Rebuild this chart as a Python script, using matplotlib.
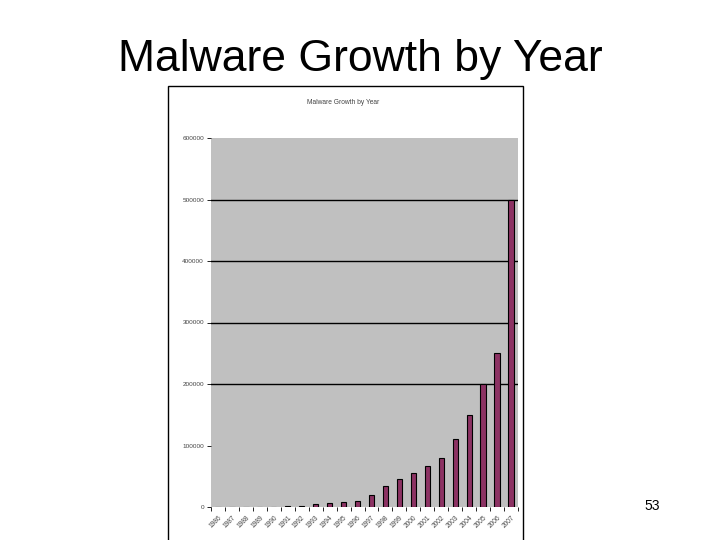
import numpy as np
import matplotlib
matplotlib.use('Agg')
import matplotlib.pyplot as plt
from matplotlib.patches import Rectangle

plt.rcParams['font.family'] = ['Liberation Sans', 'DejaVu Sans']

# datos
years = ['1986', '1987', '1988', '1989', '1990', '1991', '1992', '1993', '1994', '1995', '1996',
         '1997', '1998', '1999', '2000', '2001', '2002', '2003', '2004', '2005', '2006', '2007']
malware = [0, 0, 0, 0, 0, 1000, 1300, 4400, 6000, 7600, 9500,
           19000, 33800, 45200, 55000, 67000, 80000, 110600, 150000, 200000, 250000, 500000]
y_ticks = [0, 100000, 200000, 300000, 400000, 500000, 600000]
grid_values = [200000, 300000, 400000, 500000]

W, H = 720, 540
fig = plt.figure(figsize=(7.2, 5.4), dpi=100)

# titulo de la diapositiva
fig.text(0.5, 1 - 60 / H, 'Malware Growth by Year', ha='center', va='center',
         fontsize=32, color='black')
fig.text(652 / W, 1 - 506 / H, '53', ha='center', va='center', fontsize=10)

# marco del grafico incrustado (eje de fondo)
bg = fig.add_axes([0, 0, 1, 1], zorder=0)
bg.set_xlim(0, W)
bg.set_ylim(H, 0)
bg.axis('off')
bg.add_patch(Rectangle((168, 86), 523 - 168, H, facecolor='white',
                       edgecolor='black', linewidth=1.0))
bg.text(343, 103, 'Malware Growth by Year', ha='center', va='center',
        fontsize=4.8, color='#444444')

ax = fig.add_axes([211 / W, 1 - 507 / H, (518 - 211) / W, (507 - 138) / H], zorder=1)
ax.set_facecolor('#C0C0C0')
x = np.arange(len(years))
ax.bar(x, malware, width=0.38, color='#8C3263', edgecolor='black', linewidth=0.8, zorder=3)
for g in grid_values:
    ax.axhline(g, color='black', linewidth=1.0, zorder=2)

ax.set_xlim(-0.5, len(years) - 0.5)
ax.set_ylim(0, 600000)
ax.set_yticks(y_ticks)
ax.set_yticklabels([str(v) for v in y_ticks], fontsize=4.6, color='#444444')
ax.set_xticks(x)
ax.set_xticklabels(years, rotation=45, ha='right', rotation_mode='anchor',
                   fontsize=4.8, color='#444444')
ax.set_xticks(np.arange(len(years) + 1) - 0.5, minor=True)
ax.tick_params(axis='x', which='major', length=0, pad=5)
ax.tick_params(axis='x', which='minor', length=3, width=0.6, direction='out')
ax.tick_params(axis='y', length=3, width=0.6, pad=2)
for s in ax.spines.values():
    s.set_visible(False)

plt.savefig('out.png', dpi=100)
plt.close()
